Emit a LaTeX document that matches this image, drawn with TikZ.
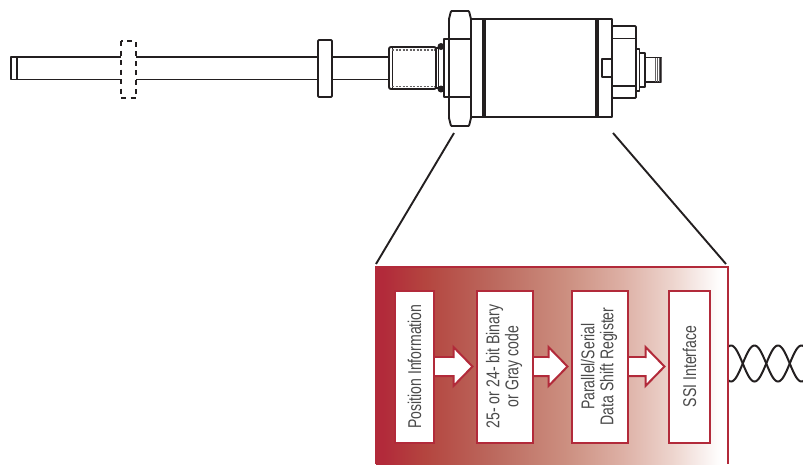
\documentclass[tikz,border=0pt]{standalone}
\usepackage{fontspec}
\usepackage{graphicx}
\setmainfont{Liberation Sans}[FakeStretch=0.76]
\usetikzlibrary{calc}
\definecolor{ared}{HTML}{B22A3A}
\definecolor{ink}{HTML}{231F20}
\definecolor{txt}{HTML}{4A4A4A}
\definecolor{fa}{HTML}{B4453F}
\definecolor{fb}{HTML}{BC6A5F}
\definecolor{fc}{HTML}{CC8F80}
\definecolor{fd}{HTML}{DDB0A5}
\definecolor{fe}{HTML}{EDD4CD}
\pgfdeclarehorizontalshading{redfade}{100bp}{color(0bp)=(ared); color(26bp)=(ared); color(32bp)=(fa); color(42bp)=(fb); color(52bp)=(fc); color(60bp)=(fd); color(67bp)=(fe); color(74bp)=(white); color(100bp)=(white)}
\newcommand{\blockarrow}[2]{%
  \draw[flow] ($(#1.east)+(0,-9.5)$) -- ($(#2.west)+(-22.5,-9.5)$) -- ($(#2.west)+(-22.5,-19.5)$)
    -- ($(#2.west)+(-3.5,0)$) -- ($(#2.west)+(-22.5,19.5)$) -- ($(#2.west)+(-22.5,9.5)$) -- ($(#1.east)+(0,9.5)$);
  \fill[white] ($(#1.east)+(0,-8.5)$) rectangle ($(#2.west)+(-23,8.5)$);}
\tikzset{
  mech/.style={draw=ink,line width=1.9pt,line join=round,fill=white},
  mechline/.style={draw=ink,line width=1.9pt},
  heavy/.style={draw=ink,line width=3.2pt},
  stage/.style={draw=ared,line width=2pt,fill=white,inner sep=0pt,text=txt,font=\fontsize{18.5}{19}\selectfont,minimum height=152pt},
  flow/.style={draw=ared,line width=2pt,fill=white,line join=miter},
  wire/.style={draw=ink,line width=2pt},
  lead/.style={draw=ink,line width=1.9pt}
}
\begin{document}
\begin{tikzpicture}[x=1pt,y=-1pt]
\useasboundingbox (0,0) rectangle (803,464);
% rod
\draw[mech] (11,57) rectangle (390,79.5);
\draw[mechline] (17,57) -- (17,79.5);
% dashed marker
\fill[white] (121,50) rectangle (136,85);
\draw[draw=ink,line width=1.7pt,dash pattern=on 5pt off 4.5pt] (121,41) rectangle (136,98);
% collar
\draw[mech,rounded corners=1pt] (318,40) rectangle (332,97);
% thread
\draw[mech,rounded corners=2pt] (389,47) rectangle (436,89);
\draw[mechline] (392.5,47) -- (392.5,89);
\draw[draw=ink!70,line width=1.2pt,dash pattern=on 2pt off 1.5pt] (392,50) -- (436,50) (392,86.5) -- (436,86.5);
\draw[mech] (436,48) rectangle (444,88);
\draw[mechline] (438.5,48) -- (438.5,88);
% flange
\draw[mech] (444,39) rectangle (471,97);
\fill[ink] (441,46.5) circle (3.5pt) (441,89) circle (3.5pt);
% hex nut
\draw[mech,rounded corners=0.8pt] (451,11) -- (469,11) -- (471,19) -- (471,118) -- (469,126) -- (451,126) -- (449,118) -- (449,19) -- cycle;
\draw[mechline] (444,39) -- (471,39) (444,97) -- (471,97);
\fill[white] (450,40) rectangle (470,96);
% body
\draw[mech] (471,19) rectangle (612,117);
\draw[heavy] (484,19) -- (484,117);
\draw[heavy] (597,19) -- (597,117);
% cap
\draw[mech,rounded corners=1pt] (612,26) rectangle (636,98);
\draw[mechline] (612,38.5) -- (636,38.5) (612,86) -- (636,86);
\draw[mech] (602,59) rectangle (612,77);
% connector
\draw[mech] (636,49) rectangle (639.5,91);
\draw[mech] (639.5,53) rectangle (645,87);
\draw[mech] (645,57.5) rectangle (661,82);
\foreach \xx in {655,657,659,661}{\draw[draw=ink!70,line width=1pt] (\xx,58) -- (\xx,82);}
% enlarged panel
\shade[shading=redfade,shading angle=0] (376,267) rectangle (728,464);
\draw[draw=ared,line width=2pt] (376,464) -- (376,267) -- (728,267) -- (728,464);
\coordinate (panelL) at (376,264);
\coordinate (panelR) at (726,264);
\coordinate (bodyL) at (454,133);
\coordinate (bodyR) at (613,133);
\draw[lead] (bodyL) -- (panelL);
\draw[lead] (bodyR) -- (panelR);
\node[stage,minimum width=39pt] (pos) at (414.5,366.5) {\rotatebox{90}{Position Information}};
\node[stage,minimum width=56pt] (bin) at (505,366.5) {\rotatebox{90}{\begin{tabular}{@{}c@{}}25- or 24- bit Binary\\or Gray code\end{tabular}}};
\node[stage,minimum width=56pt] (reg) at (600,366.5) {\rotatebox{90}{\begin{tabular}{@{}c@{}}Parallel/Serial\\Data Shift Register\end{tabular}}};
\node[stage,minimum width=41pt] (ssi) at (689.5,366.5) {\rotatebox{90}{SSI Interface}};
\blockarrow{pos}{bin}
\blockarrow{bin}{reg}
\blockarrow{reg}{ssi}
% twisted pair
\begin{scope}
\clip (729,330) rectangle (803,400);
\draw[wire,domain=725:806,samples=120,smooth] plot (\x,{363.5+18*cos((\x-731)*7.66)});
\draw[wire,domain=725:806,samples=120,smooth] plot (\x,{363.5-18*cos((\x-731)*7.66)});
\end{scope}
\end{tikzpicture}
\end{document}
